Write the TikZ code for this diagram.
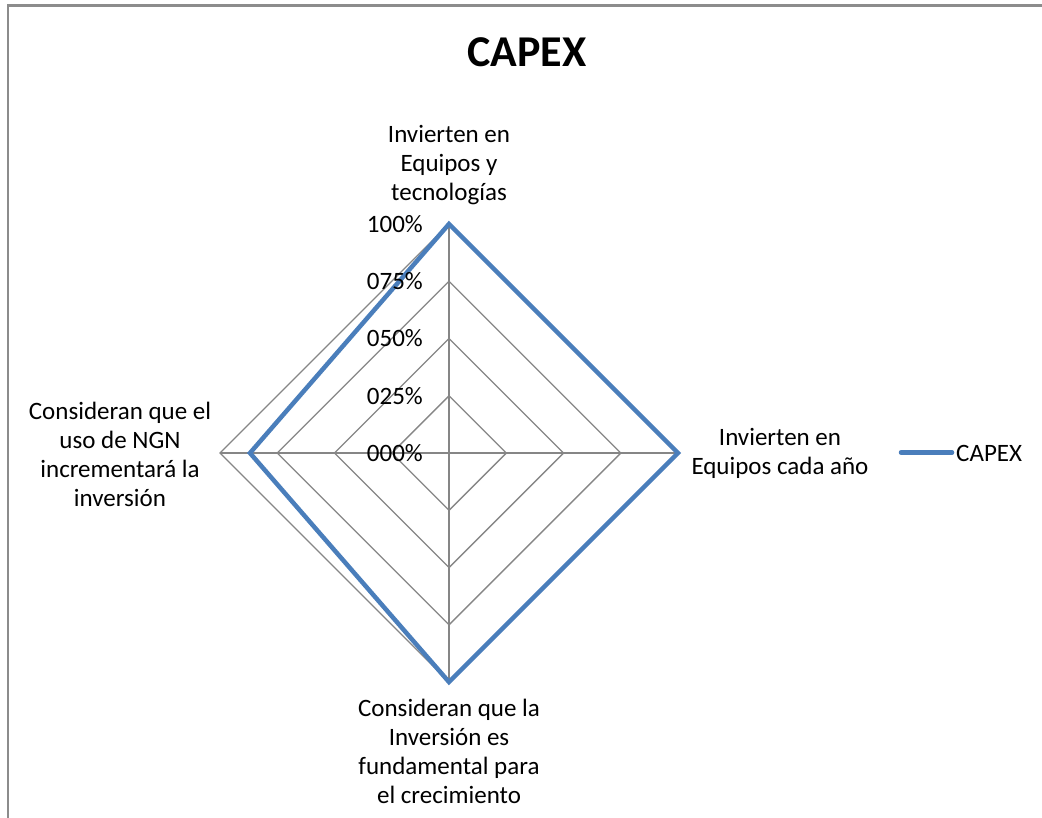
\documentclass[tikz,border=0pt]{standalone}
\usepackage{fontspec}
\setmainfont{Carlito}
\usetikzlibrary{calc}
\definecolor{gridgray}{HTML}{868686}
\definecolor{capexblue}{HTML}{4A7EBB}
\definecolor{framegray}{HTML}{8C8C8C}
\tikzset{
  grid/.style={draw=gridgray, line width=1.4pt},
  series/.style={draw=capexblue, line width=4.5pt, line join=miter},
  axlabel/.style={align=center, font=\fontsize{25}{29}\selectfont, inner sep=0pt},
  pct/.style={anchor=east, font=\fontsize{25}{29}\selectfont, inner sep=0pt},
}
\begin{document}
\begin{tikzpicture}[x=1pt,y=-1pt]
\useasboundingbox (0,0) rectangle (1042,817);
\fill[white] (0,0) rectangle (1042,817);
% frame (only top and left edges visible)
\draw[framegray, line width=2.2pt] (8,830) -- (8,5.5) -- (1050,5.5);
% title
\node[font=\fontsize{44}{52}\selectfont\bfseries, inner sep=0pt] (title) at (527,52) {CAPEX};
% center and axis ends
\coordinate (c) at (449,453);
\def\R{229}
\foreach \f in {0.25,0.5,0.75,1} {
  \draw[grid] ($(c)+(0,-\f*\R)$) -- ($(c)+(\f*\R,0)$) -- ($(c)+(0,\f*\R)$) -- ($(c)+(-\f*\R,0)$) -- cycle;
}
\coordinate (vt) at (449,224);
\coordinate (vr) at (678,453);
\coordinate (vb) at (449,682);
\coordinate (vl) at (220,453);
\draw[grid] (c) -- (vt);
\draw[grid] (c) -- (vr);
\draw[grid] (c) -- (vb);
\draw[grid] (c) -- (vl);
% series
\coordinate (sl) at (250,453);
\draw[series] (vt) -- (vr) -- (vb) -- (sl) -- cycle;
% percent labels
\node[pct] (p0) at (423,453) {000\%};
\node[pct] (p25) at (423,396) {025\%};
\node[pct] (p50) at (423,338.5) {050\%};
\node[pct] (p75) at (423,281) {075\%};
\node[pct] (p100) at (423,224) {100\%};
% axis labels
\node[axlabel] (lt) at (449,165) {Invierten en\\Equipos y\\tecnologías};
\node[axlabel] (lr) at (780,453.5) {Invierten en\\Equipos cada año};
\node[axlabel] (lb) at (449,751) {Consideran que la\\Inversión es\\fundamental para\\el crecimiento};
\node[axlabel] (ll) at (120,454) {Consideran que el\\uso de NGN\\incrementará la\\inversión};
% legend
\coordinate (lg1) at (901,452.5);
\coordinate (lg2) at (952,452.5);
\draw[draw=capexblue, line width=4.5pt, line cap=round] (lg1) -- (lg2);
\node[anchor=west, font=\fontsize{25}{29}\selectfont, inner sep=0pt] (legtext) at (956,453) {CAPEX};
\end{tikzpicture}
\end{document}
